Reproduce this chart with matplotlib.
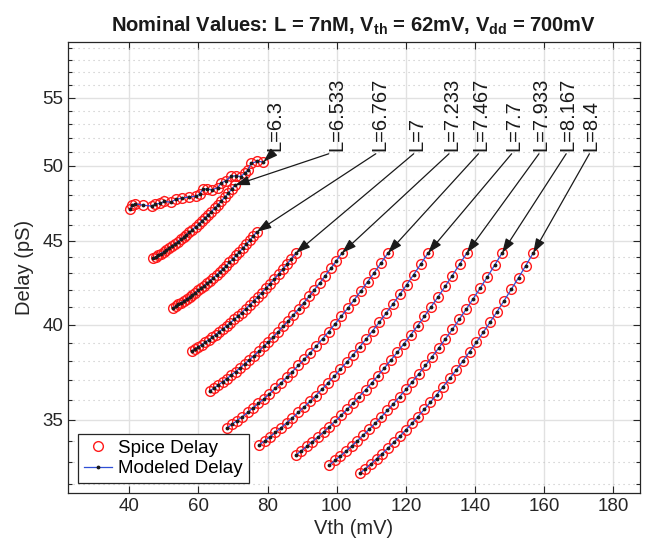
import matplotlib
matplotlib.use('Agg')
import matplotlib.pyplot as plt
from matplotlib.ticker import FixedLocator, FixedFormatter, NullFormatter
from matplotlib.lines import Line2D

plt.rcParams['font.family'] = ['Liberation Sans', 'DejaVu Sans']
plt.rcParams['mathtext.fontset'] = 'custom'
plt.rcParams['mathtext.rm'] = 'Liberation Sans'
plt.rcParams['mathtext.bf'] = 'Liberation Sans:bold'
plt.rcParams['mathtext.it'] = 'Liberation Sans:italic'

# ---------------- data ----------------
L_labels = ['L=6.3', 'L=6.533', 'L=6.767', 'L=7', 'L=7.233', 'L=7.467',
            'L=7.7', 'L=7.933', 'L=8.167', 'L=8.4']

vth_L1 = [40.2, 40.9, 41.7, 44.0, 46.6, 47.6, 48.8, 50.2, 52.0, 53.6, 55.4, 57.4, 59.4, 60.4,
          61.3, 62.6, 64.0, 65.6, 66.6, 68.0, 69.4, 70.8, 72.2, 73.4, 74.4, 75.2, 77.0, 78.8]
dly_L1 = [47.02, 47.30, 47.40, 47.30, 47.24, 47.38, 47.42, 47.55, 47.50, 47.70, 47.78, 47.86, 47.90, 48.05,
          48.40, 48.38, 48.34, 48.48, 48.80, 48.95, 49.25, 49.30, 49.24, 49.46, 49.70, 50.15, 50.30, 50.26]

vth_L2 = [46.90, 47.65, 48.41, 49.18, 49.96, 50.75, 51.55, 52.36, 53.18, 54.01, 54.85, 55.70, 56.56, 57.43,
          58.30, 59.19, 60.09, 60.99, 61.91, 62.84, 63.77, 64.72, 65.68, 66.64, 67.62, 68.60, 69.60, 70.60]
dly_L2 = [43.90, 43.99, 44.09, 44.20, 44.31, 44.42, 44.54, 44.67, 44.80, 44.93, 45.08, 45.22, 45.38, 45.54,
          45.71, 45.89, 46.07, 46.26, 46.46, 46.67, 46.88, 47.11, 47.34, 47.58, 47.83, 48.09, 48.37, 48.65]

vth_L3 = [52.70, 53.47, 54.24, 55.03, 55.83, 56.63, 57.45, 58.28, 59.11, 59.96, 60.82, 61.68, 62.56, 63.45,
          64.34, 65.25, 66.17, 67.09, 68.03, 68.97, 69.93, 70.90, 71.87, 72.86, 73.85, 74.86, 75.87, 76.90]
dly_L3 = [40.97, 41.06, 41.16, 41.26, 41.36, 41.47, 41.59, 41.71, 41.84, 41.97, 42.11, 42.25, 42.40, 42.56,
          42.72, 42.89, 43.07, 43.26, 43.45, 43.65, 43.86, 44.08, 44.30, 44.54, 44.78, 45.03, 45.30, 45.57]

vth_L4 = [58.05, 59.01, 59.97, 60.95, 61.95, 62.95, 63.97, 65.00, 66.04, 67.10, 68.16, 69.24, 70.33, 71.44,
          72.56, 73.68, 74.83, 75.98, 77.14, 78.32, 79.51, 80.72, 81.94, 83.17, 84.40, 85.66, 86.92, 88.20]
dly_L4 = [38.55, 38.66, 38.78, 38.90, 39.03, 39.16, 39.30, 39.45, 39.61, 39.77, 39.94, 40.11, 40.30, 40.49,
          40.69, 40.90, 41.12, 41.35, 41.59, 41.84, 42.10, 42.37, 42.65, 42.94, 43.24, 43.56, 43.89, 44.23]

vth_L5 = [63.30, 64.51, 65.74, 66.98, 68.24, 69.51, 70.80, 72.11, 73.42, 74.76, 76.11, 77.48, 78.86, 80.27,
          81.68, 83.11, 84.55, 86.01, 87.49, 88.99, 90.50, 92.02, 93.56, 95.12, 96.69, 98.28, 99.88, 101.50]
dly_L5 = [36.45, 36.60, 36.75, 36.92, 37.09, 37.27, 37.46, 37.66, 37.87, 38.08, 38.31, 38.55, 38.80, 39.06,
          39.33, 39.62, 39.92, 40.23, 40.56, 40.90, 41.26, 41.63, 42.02, 42.42, 42.85, 43.29, 43.75, 44.23]

vth_L6 = [68.20, 69.68, 71.17, 72.69, 74.22, 75.77, 77.35, 78.94, 80.55, 82.18, 83.83, 85.50, 87.19, 88.90,
          90.62, 92.36, 94.13, 95.91, 97.71, 99.53, 101.38, 103.24, 105.12, 107.02, 108.93, 110.87, 112.82, 114.80]
dly_L6 = [34.60, 34.78, 34.97, 35.16, 35.37, 35.59, 35.82, 36.06, 36.31, 36.58, 36.86, 37.15, 37.46, 37.78,
          38.11, 38.46, 38.83, 39.22, 39.62, 40.05, 40.49, 40.95, 41.44, 41.95, 42.48, 43.04, 43.62, 44.23]

vth_L7 = [77.60, 79.15, 80.71, 82.30, 83.91, 85.53, 87.18, 88.85, 90.53, 92.24, 93.97, 95.72, 97.48, 99.27,
          101.08, 102.90, 104.75, 106.62, 108.51, 110.41, 112.34, 114.29, 116.26, 118.25, 120.26, 122.28, 124.33, 126.40]
dly_L7 = [33.80, 33.99, 34.19, 34.40, 34.63, 34.86, 35.11, 35.37, 35.64, 35.92, 36.22, 36.54, 36.87, 37.21,
          37.58, 37.96, 38.35, 38.77, 39.21, 39.67, 40.15, 40.66, 41.18, 41.74, 42.32, 42.92, 43.56, 44.23]

vth_L8 = [88.20, 89.77, 91.35, 92.96, 94.58, 96.23, 97.90, 99.59, 101.29, 103.02, 104.77, 106.54, 108.33, 110.14,
          111.97, 113.81, 115.69, 117.57, 119.49, 121.42, 123.37, 125.34, 127.34, 129.35, 131.38, 133.43, 135.51, 137.60]
dly_L8 = [33.32, 33.52, 33.73, 33.95, 34.18, 34.42, 34.68, 34.95, 35.23, 35.53, 35.84, 36.17, 36.51, 36.87,
          37.25, 37.65, 38.07, 38.50, 38.96, 39.44, 39.94, 40.47, 41.03, 41.61, 42.22, 42.86, 43.53, 44.23]

vth_L9 = [97.90, 99.48, 101.08, 102.71, 104.35, 106.01, 107.70, 109.40, 111.12, 112.87, 114.64, 116.42, 118.23, 120.06,
          121.91, 123.77, 125.66, 127.57, 129.50, 131.45, 133.42, 135.42, 137.43, 139.47, 141.52, 143.59, 145.68, 147.80]
dly_L9 = [32.86, 33.07, 33.28, 33.51, 33.75, 34.00, 34.27, 34.55, 34.84, 35.15, 35.47, 35.81, 36.17, 36.54,
          36.94, 37.35, 37.78, 38.24, 38.72, 39.22, 39.74, 40.30, 40.88, 41.49, 42.12, 42.79, 43.49, 44.23]

vth_L10 = [106.70, 108.29, 109.90, 111.52, 113.17, 114.84, 116.54, 118.25, 119.98, 121.73, 123.50, 125.30, 127.11, 128.95,
           130.80, 132.68, 134.58, 136.49, 138.43, 140.39, 142.37, 144.37, 146.39, 148.43, 150.49, 152.57, 154.68, 156.80]
dly_L10 = [32.48, 32.69, 32.91, 33.15, 33.39, 33.65, 33.93, 34.21, 34.52, 34.83, 35.17, 35.52, 35.89, 36.27,
           36.68, 37.10, 37.55, 38.02, 38.52, 39.03, 39.58, 40.15, 40.75, 41.38, 42.04, 42.73, 43.46, 44.23]

vth_all = [vth_L1, vth_L2, vth_L3, vth_L4, vth_L5, vth_L6, vth_L7, vth_L8, vth_L9, vth_L10]
spice_all = [dly_L1, dly_L2, dly_L3, dly_L4, dly_L5, dly_L6, dly_L7, dly_L8, dly_L9, dly_L10]
model_all = [list(d) for d in spice_all]

x_ticks = [40, 60, 80, 100, 120, 140, 160, 180]
y_ticks = [35, 40, 45, 50, 55]

# ---------------- layout (not data) ----------------
label_xfrac = [0.3619, 0.4703, 0.5455, 0.6101, 0.6713, 0.7220, 0.7797, 0.8269, 0.8741, 0.9143]
label_yfrac = 0.758

fig = plt.figure(figsize=(6.45, 5.47), dpi=100)
ax = fig.add_axes([68 / 645, 1 - 493.3 / 547, 572 / 645, 451.6 / 547])
ax.set_yscale('log')

line_blue = '#2f4fd6'
for x, s in zip(vth_all, spice_all):
    ax.plot(x, s, 'o', mfc='none', mec='#ff1a1a', ms=7, mew=1.0, zorder=3)
for x, m in zip(vth_all, model_all):
    ax.plot(x, m, '-', color=line_blue, lw=0.9, marker='.', ms=3.5,
            mfc='#1a1a1a', mec='#1a1a1a', zorder=4)

ax.set_xlim(22.3, 187.7)
ax.set_ylim(31.58, 59.49)

ax.xaxis.set_major_locator(FixedLocator(x_ticks))
ax.xaxis.set_major_formatter(FixedFormatter([str(v) for v in x_ticks]))
ax.yaxis.set_major_locator(FixedLocator(y_ticks))
ax.yaxis.set_major_formatter(FixedFormatter([str(v) for v in y_ticks]))
minor_y = [v for v in range(32, 60) if v not in y_ticks]
ax.yaxis.set_minor_locator(FixedLocator(minor_y))
ax.yaxis.set_minor_formatter(NullFormatter())
ax.xaxis.set_minor_locator(FixedLocator([]))

ax.grid(which='major', color='#e1e1e1', lw=1.0, ls='-')
ax.grid(which='minor', axis='y', color='#c4c4c4', lw=0.8, ls=(0, (1, 3.5)))
ax.set_axisbelow(True)

ax.tick_params(which='both', direction='in', top=True, right=True, color='#262626', width=0.8)
ax.tick_params(which='major', length=5, labelsize=13.5, colors='#262626')
ax.tick_params(which='minor', length=3)
for sp in ax.spines.values():
    sp.set_color('#262626')
    sp.set_linewidth(0.9)

ax.set_xlabel('Vth (mV)', fontsize=14.5, color='#262626', labelpad=3)
ax.set_ylabel('Delay (pS)', fontsize=14.5, color='#262626', labelpad=6)
ax.set_title(r'Nominal Values: L = 7nM, $\mathbf{V_{th}}$ = 62mV, $\mathbf{V_{dd}}$ = 700mV',
             fontsize=14.5, fontweight='bold', color='#1a1a1a', pad=7)

for lab, x, m, tx in zip(L_labels, vth_all, model_all, label_xfrac):
    ax.annotate(lab, xy=(x[-1], m[-1]), xycoords='data',
                xytext=(tx, label_yfrac), textcoords='axes fraction',
                rotation=90, ha='center', va='bottom', fontsize=14.5, color='#1a1a1a',
                arrowprops=dict(arrowstyle='-|>,head_length=0.6,head_width=0.2',
                                color='#1a1a1a', lw=0.9, shrinkA=0, shrinkB=0,
                                relpos=(0.5, 0.0)),
                zorder=6)

h1 = Line2D([], [], ls='none', marker='o', mfc='none', mec='#ff1a1a', ms=7, mew=1.0)
h2 = Line2D([], [], ls='-', color=line_blue, lw=0.9, marker='.', ms=3.5, mfc='#1a1a1a', mec='#1a1a1a')
leg = ax.legend([h1, h2], ['Spice Delay', 'Modeled Delay'], loc='lower left',
                bbox_to_anchor=(0.0175, 0.0228), borderaxespad=0, fontsize=13.5,
                fancybox=False, framealpha=1, edgecolor='#262626',
                handlelength=1.5, handletextpad=0.35, borderpad=0.3, labelspacing=0.2)
leg.get_frame().set_linewidth(0.9)

fig.savefig('out.png', dpi=100)
